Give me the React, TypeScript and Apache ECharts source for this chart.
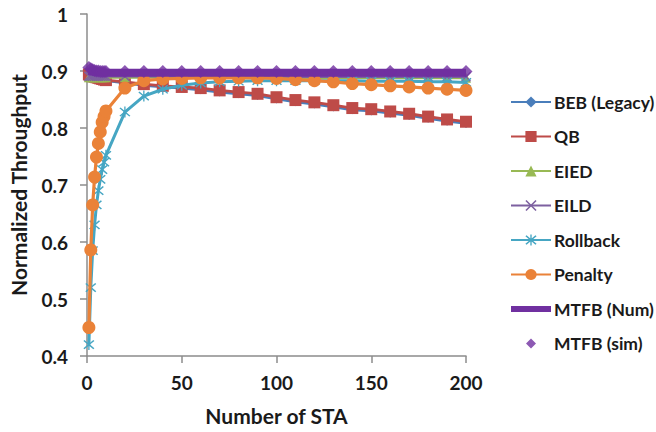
import React, { useEffect, useRef } from "react";
import * as echarts from "echarts";

const xValues = [1, 2, 3, 4, 5, 6, 7, 8, 9, 10, 20, 30, 40, 50, 60, 70, 80, 90, 100, 110, 120, 130, 140, 150, 160, 170, 180, 190, 200];

const bebValues = [0.893, 0.891, 0.89, 0.889, 0.888, 0.887, 0.886, 0.885, 0.884, 0.883, 0.879, 0.875, 0.872, 0.87, 0.867, 0.863, 0.86, 0.857, 0.851, 0.846, 0.842, 0.837, 0.832, 0.83, 0.826, 0.822, 0.817, 0.812, 0.808];
const qbValues = [0.894, 0.892, 0.891, 0.89, 0.889, 0.888, 0.887, 0.886, 0.885, 0.884, 0.881, 0.877, 0.874, 0.872, 0.87, 0.866, 0.863, 0.86, 0.854, 0.849, 0.845, 0.84, 0.835, 0.833, 0.829, 0.825, 0.82, 0.815, 0.811];
const eiedValues = [0.889, 0.889, 0.889, 0.889, 0.889, 0.889, 0.889, 0.889, 0.889, 0.889, 0.889, 0.889, 0.889, 0.889, 0.889, 0.889, 0.889, 0.889, 0.889, 0.888, 0.888, 0.888, 0.888, 0.888, 0.888, 0.888, 0.888, 0.888, 0.888];
const eildValues = [0.891, 0.891, 0.891, 0.891, 0.891, 0.891, 0.891, 0.891, 0.891, 0.891, 0.891, 0.891, 0.891, 0.891, 0.891, 0.891, 0.891, 0.891, 0.891, 0.89, 0.89, 0.89, 0.89, 0.89, 0.89, 0.89, 0.89, 0.89, 0.89];
const rollbackValues = [0.42, 0.52, 0.585, 0.63, 0.665, 0.69, 0.71, 0.727, 0.74, 0.752, 0.828, 0.856, 0.868, 0.875, 0.879, 0.881, 0.882, 0.883, 0.883, 0.883, 0.883, 0.883, 0.883, 0.882, 0.882, 0.882, 0.881, 0.881, 0.88];
const penaltyValues = [0.45, 0.586, 0.665, 0.714, 0.749, 0.773, 0.793, 0.81, 0.82, 0.83, 0.87, 0.883, 0.886, 0.887, 0.888, 0.888, 0.888, 0.888, 0.887, 0.885, 0.883, 0.881, 0.878, 0.876, 0.874, 0.872, 0.87, 0.868, 0.866];
const mtfbNumValues = [0.9, 0.899, 0.899, 0.898, 0.898, 0.898, 0.898, 0.897, 0.897, 0.897, 0.897, 0.897, 0.897, 0.897, 0.897, 0.897, 0.897, 0.897, 0.897, 0.897, 0.897, 0.897, 0.897, 0.897, 0.897, 0.897, 0.897, 0.897, 0.897];
const mtfbSimValues = [0.906, 0.904, 0.902, 0.901, 0.9, 0.9, 0.899, 0.899, 0.899, 0.899, 0.899, 0.899, 0.899, 0.899, 0.899, 0.899, 0.899, 0.899, 0.899, 0.899, 0.899, 0.899, 0.899, 0.899, 0.899, 0.899, 0.899, 0.899, 0.899];

const seriesNames = ["BEB (Legacy)", "QB", "EIED", "EILD", "Rollback", "Penalty", "MTFB (Num)", "MTFB (sim)"];
const yTicks = { min: 0.4, max: 1, interval: 0.1 };
const xTicks = { min: 0, max: 200, interval: 50 };

const X_SYMBOL = "path://M0,1 L1,0 L5,4 L9,0 L10,1 L6,5 L10,9 L9,10 L5,6 L1,10 L0,9 L4,5 Z";
const STAR_SYMBOL = "path://M0,1 L1,0 L5,4 L9,0 L10,1 L6,5 L10,9 L9,10 L5,6 L1,10 L0,9 L4,5 Z M4.4,-1 L5.6,-1 L5.6,11 L4.4,11 Z";
const BOX_CORNERS = "M0,0 L0.01,0 L0,0.01 Z M40,14 L39.99,14 L40,13.99 Z";
const LEGEND_BAR = "path://" + BOX_CORNERS + " M0,4 L40,4 L40,10 L0,10 Z";
const LEGEND_DIAMOND = "path://" + BOX_CORNERS + " M20,2 L25,7 L20,12 L15,7 Z";

const pair = (ys: number[]) => xValues.map((x, i) => [x, ys[i]]);

export default function App() {
  const ref = useRef<HTMLDivElement>(null);
  useEffect(() => {
    if (!ref.current) return;
    const chart = echarts.init(ref.current, undefined, { renderer: "svg" });
    const font = "Lato";
    const textColor = "#1a1a1a";
    const lineSeries = (name: string, ys: number[], color: string, symbol: string, size: number, z: number, width = 2.8) => ({
      name,
      type: "line",
      data: pair(ys),
      symbol,
      symbolSize: size,
      showAllSymbol: true,
      z,
      lineStyle: { color, width },
      itemStyle: { color },
    });
    chart.setOption({
      animation: false,
      backgroundColor: "#ffffff",
      textStyle: { fontFamily: font },
      grid: { left: 87, right: 190, top: 14, bottom: 76, containLabel: false },
      xAxis: {
        type: "value",
        ...xTicks,
        name: "Number of STA",
        nameLocation: "middle",
        nameGap: 49,
        nameTextStyle: { fontFamily: font, fontWeight: "bold", fontSize: 21, color: textColor },
        axisLine: { lineStyle: { color: "#8c8c8c", width: 1.5 } },
        axisTick: { show: true, length: 7, lineStyle: { color: "#8c8c8c", width: 1.5 } },
        axisLabel: { margin: 17, fontFamily: font, fontWeight: "bold", fontSize: 19, color: textColor },
        splitLine: { show: false },
      },
      yAxis: {
        type: "value",
        ...yTicks,
        name: "Normalized Throughput",
        nameLocation: "middle",
        nameGap: 58,
        nameTextStyle: { fontFamily: font, fontWeight: "bold", fontSize: 21, color: textColor },
        axisLine: { show: true, lineStyle: { color: "#8c8c8c", width: 1.5 } },
        axisTick: { show: true, length: 7, lineStyle: { color: "#8c8c8c", width: 1.5 } },
        axisLabel: { margin: 19, fontFamily: font, fontWeight: "bold", fontSize: 19, color: textColor },
        splitLine: { show: false },
      },
      legend: {
        orient: "vertical",
        left: 510,
        top: 92,
        padding: 0,
        itemWidth: 40,
        itemHeight: 14,
        itemGap: 14.5,
        data: [
          seriesNames[0],
          seriesNames[1],
          seriesNames[2],
          seriesNames[3],
          seriesNames[4],
          seriesNames[5],
          { name: seriesNames[6], icon: LEGEND_BAR },
          { name: seriesNames[7], icon: LEGEND_DIAMOND },
        ],
        textStyle: { fontFamily: font, fontWeight: "bold", fontSize: 17.5, color: textColor, lineHeight: 20, padding: [0, 0, 0, -2] },
      },
      series: [
        lineSeries(seriesNames[0], bebValues, "#4a7ebb", "diamond", 9, 3),
        lineSeries(seriesNames[1], qbValues, "#be4b48", "rect", 12, 4),
        lineSeries(seriesNames[2], eiedValues, "#98b954", "triangle", 10, 5),
        lineSeries(seriesNames[3], eildValues, "#7d60a0", X_SYMBOL, 10, 6),
        lineSeries(seriesNames[4], rollbackValues, "#46a6c3", STAR_SYMBOL, 11, 7, 3),
        lineSeries(seriesNames[5], penaltyValues, "#ea8238", "circle", 13, 8, 3.2),
        {
          name: seriesNames[6],
          type: "line",
          data: pair(mtfbNumValues),
          symbol: "none",
          z: 9,
          lineStyle: { color: "#7030a0", width: 8 },
          itemStyle: { color: "#7030a0" },
        },
        {
          name: seriesNames[7],
          type: "scatter",
          data: pair(mtfbSimValues),
          symbol: "diamond",
          symbolSize: 13,
          z: 10,
          itemStyle: { color: "#7030a0" },
        },
      ],
    });
    return () => chart.dispose();
  }, []);
  return <div ref={ref} style={{ position: "fixed", left: 0, top: 0, width: 656, height: 432 }} />;
}
